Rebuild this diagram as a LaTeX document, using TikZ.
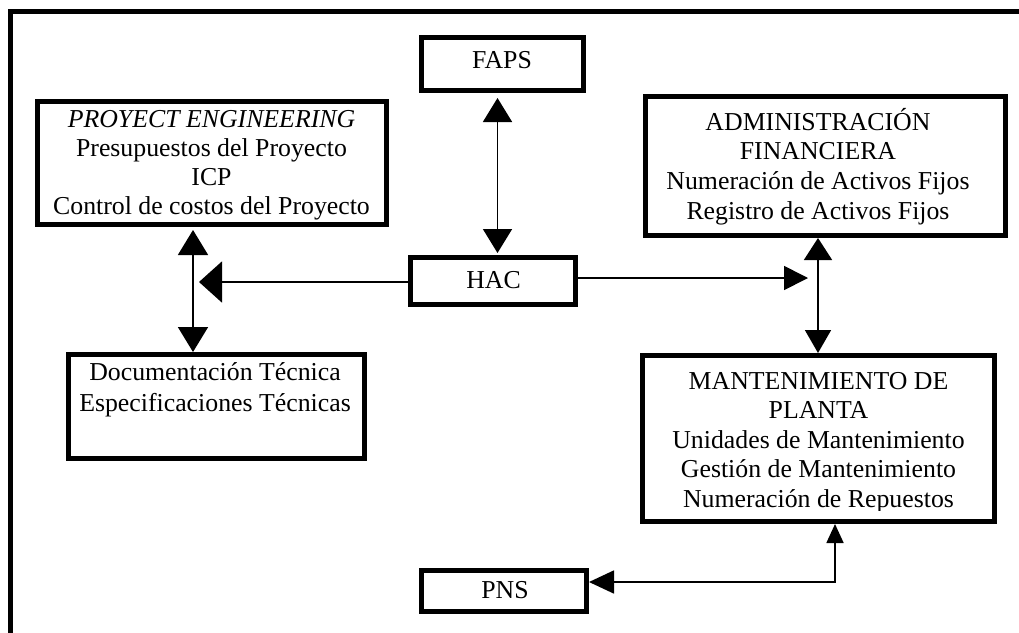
\documentclass[tikz,border=0pt]{standalone}
\usepackage{fontspec}
\setmainfont{Liberation Serif}
\usetikzlibrary{arrows.meta}
\newcommand\stack[1]{\begin{tabular}[t]{@{}c@{}}#1\end{tabular}}
\begin{document}
\begin{tikzpicture}[x=1pt,y=-1pt,
  box/.style={draw=black,line width=5pt,inner sep=0pt},
  txt/.style={inner sep=0pt,anchor=base,font=\fontsize{25.8}{29}\selectfont},
  conn/.style={draw=black,line width=1.7pt},
]
\useasboundingbox (0,0) rectangle (1019,632);
\clip (0,0) rectangle (1019,632);

% frame around the chart (continues past the page edge)
\draw[line width=5pt] (10.5,660) -- (10.5,11) -- (1040,11);

% boxes
\node[box,minimum width=349pt,minimum height=123pt] (pe)    at (212,163)     {};
\node[box,minimum width=162.5pt,minimum height=53pt] (faps) at (502.5,64)    {};
\node[box,minimum width=360pt,minimum height=139pt] (admin) at (825.5,166)   {};
\node[box,minimum width=165pt,minimum height=47pt]  (hac)   at (493,281)     {};
\node[box,minimum width=296pt,minimum height=104pt] (doc)   at (216.5,406.5) {};
\node[box,minimum width=352pt,minimum height=166pt] (mant)  at (818.5,438.5) {};
\node[box,minimum width=165pt,minimum height=41pt]  (pns)   at (504,591)     {};

% box texts
\node[txt] (petext) at (211.5,127) {\stack{\textit{PROYECT ENGINEERING}\\
  Presupuestos del Proyecto\\ ICP\\ Control de costos del Proyecto}};
\node[txt] (doctext) at (215,380) {\stack{Documentación Técnica\\[2pt]
  Especificaciones Técnicas}};
\node[txt] (fapstext) at (502,68)   {FAPS};
\node[txt] (hactext)  at (493.5,288) {HAC};
\node[txt] (pnstext)  at (505,598)  {PNS};
\begin{scope}
  \clip (645,98) rectangle (1005,224);
  \node[txt] (admintext) at (818,130) {\stack{ADMINISTRACIÓN\\[0.7pt]
    FINANCIERA\\[0.7pt] Numeración de Activos Fijos\\[0.7pt] Registro de Activos Fijos}};
\end{scope}
\begin{scope}
  \clip (642,357) rectangle (995,510);
  \node[txt] (manttext) at (818.5,389) {\stack{MANTENIMIENTO DE\\[0.5pt]
    PLANTA\\[0.5pt] Unidades de Mantenimiento\\[0.5pt] Gestión de Mantenimiento\\[0.5pt]
    Numeración de Repuestos}};
\end{scope}

% connector guide points
\coordinate (pedocx) at (193,0);
\coordinate (fapsx)  at (497.5,0);
\coordinate (admx)   at (818,0);
\coordinate (leftend)  at (199,282);
\coordinate (rightend) at (808,278);
\coordinate (pnscorner) at (835,582);

% connectors
\draw[conn,{Triangle[width=29pt,length=24pt]}-{Triangle[width=29pt,length=24pt]}]
  ([yshift=-5pt]faps.south -| fapsx) -- ([yshift=2pt]hac.north -| fapsx);
\draw[conn,{Triangle[width=30pt,length=25pt]}-{Triangle[width=30pt,length=25pt]}]
  ([yshift=-3pt]pe.south -| pedocx) -- (doc.north -| pedocx);
\draw[conn,-{Triangle[width=41pt,length=23pt]}]
  (hac.west |- leftend) -- (leftend);
\draw[conn,-{Triangle[width=24pt,length=24pt]}]
  (hac.east |- rightend) -- (rightend);
\draw[conn,{Triangle[width=28pt,length=22pt]}-{Triangle[width=26pt,length=23pt]}]
  (admin.south -| admx) -- (mant.north -| admx);
\draw[conn,{Triangle[width=17pt,length=19pt]}-{Triangle[width=23pt,length=25pt]}]
  (mant.south -| pnscorner) -- (pnscorner) -- (pns.east |- pnscorner);
\end{tikzpicture}
\end{document}
